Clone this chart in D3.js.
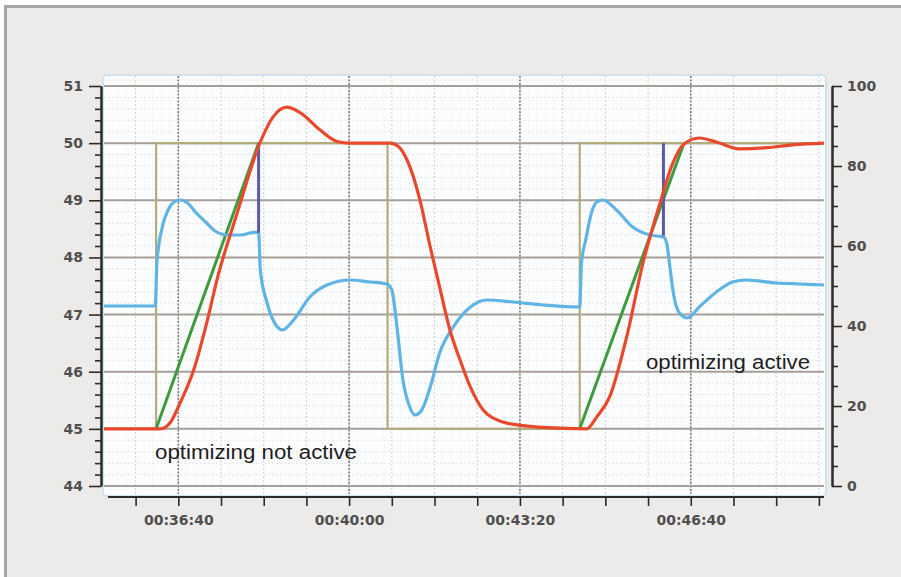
<!DOCTYPE html>
<html><head><meta charset="utf-8">
<script src="https://cdn.jsdelivr.net/npm/d3@7"></script>
<style>body{margin:0;background:#fff}svg{display:block}</style>
</head><body><svg id="c" width="901" height="577"></svg>
<script>
// ---- data (time in seconds) ----
const setpointTimes  = [2113, 2174, 2445, 2670, 2956];
const setpointValues = [45, 50, 45, 50, 50];

const rampStartTimes = [2174, 2670];
const rampEndTimes   = [2294, 2792];
const rampValues     = [45, 50];

const processTimes  = [2113,2179,2191,2202,2218,2234,2246,2269,2296,2311,2327,2343,2366,2386,2401,2448,2457,2468,2483,2495,2506,2518,2530,2542,2557,2580,2597,2632,2678,2690,2705,2725,2744,2764,2779,2791,2810,2830,2857,2889,2919,2956];
const processValues = [45,45,45.12,45.45,46.03,46.9,47.65,48.78,50.02,50.46,50.63,50.53,50.23,50.03,50,50,49.95,49.7,49.0,48.18,47.48,46.73,46.2,45.73,45.33,45.12,45.07,45.02,45,45.21,45.56,46.61,47.9,48.95,49.65,49.97,50.09,50.02,49.9,49.92,49.97,50];

const outputTimes  = [2113,2173,2175,2181,2188,2195,2202,2211,2220,2232,2243,2258,2273,2284,2294,2296,2304,2316,2322,2335,2354,2374,2401,2425,2444,2450,2456,2463,2471,2477,2485,2495,2506,2522,2542,2561,2592,2627,2670,2672,2677,2684,2690,2697,2713,2732,2752,2768,2772,2776,2780,2786,2796,2810,2830,2849,2865,2901,2928,2956];
const outputValues = [45,45,56,64.5,69,71,71.5,70.75,68.5,66,63.75,62.75,62.75,63.25,63.5,54,45.75,39.75,39,41.5,47.25,50.25,51.5,51,50.5,49,39.75,26.5,19.75,17.75,19,24.75,33.25,39.75,44.75,46.5,46,45.25,44.75,55.75,61.5,68.5,71,71.5,69,64.75,62.75,62.25,60.5,54,47.75,43.5,42,44.75,48.5,51,51.5,50.75,50.5,50.25];

const markerTimes = [2294, 2768];
const markerLow   = [48.43, 48.38];
const markerHigh  = [50, 50];

const leftTicks  = [44,45,46,47,48,49,50,51];
const rightTicks = [0,20,40,60,80,100];
const timeTicks  = [2200,2400,2600,2800];
const timeLabels = ["00:36:40","00:40:00","00:43:20","00:46:40"];
const notes = ["optimizing not active","optimizing active"];

// ---- drawing ----
const svg = d3.select("#c");
const x  = d3.scaleLinear().domain([2113, 2956]).range([104, 824]);
const yL = d3.scaleLinear().domain([44, 51]).range([486, 86]);
const yR = d3.scaleLinear().domain([0, 100]).range([486, 86]);

svg.append("rect").attr("width",901).attr("height",577).attr("fill","#ffffff");
svg.append("rect").attr("x",5.5).attr("y",6.5).attr("width",905).attr("height",585)
  .attr("fill","#ecebe9").attr("stroke","#a6a6a6").attr("stroke-width",3);

// plot area
svg.append("rect").attr("x",103).attr("y",75).attr("width",723).attr("height",421).attr("rx",4)
  .attr("fill","#fcfdff").attr("stroke","#cfe3f0").attr("stroke-width",2);

const g = svg.append("g");
// minor vertical grid (every 10 s faint, every 50 s dotted)
d3.range(2120, 2956, 10).forEach(t=>{
  g.append("line").attr("x1",x(t)).attr("x2",x(t)).attr("y1",76).attr("y2",494)
   .attr("stroke", t%50===0 ? "#cfcfcf" : "#ededed").attr("stroke-width",1)
   .attr("stroke-dasharray", t%50===0 ? "2,2" : "1,2");
});
// minor horizontal grid
d3.range(44.2, 51.0, 0.2).forEach(v=>{
  if (Math.abs(v-Math.round(v))<0.01) return;
  g.append("line").attr("x1",104).attr("x2",824).attr("y1",yL(v)).attr("y2",yL(v))
   .attr("stroke","#e4e4e4").attr("stroke-width",1).attr("stroke-dasharray","2,2");
});
g.append("line").attr("x1",104).attr("x2",824).attr("y1",80).attr("y2",80)
   .attr("stroke","#e4e4e4").attr("stroke-width",1).attr("stroke-dasharray","2,2");
// major vertical grid
timeTicks.forEach(t=>{
  g.append("line").attr("x1",x(t)).attr("x2",x(t)).attr("y1",76).attr("y2",494)
   .attr("stroke","#7d7873").attr("stroke-width",1.5).attr("stroke-dasharray","2,1.5");
});
// major horizontal grid
leftTicks.forEach(v=>{
  g.append("line").attr("x1",104).attr("x2",824).attr("y1",yL(v)).attr("y2",yL(v))
   .attr("stroke","#a79e98").attr("stroke-width",2);
});

// setpoint (olive)
const spData = setpointTimes.map((t,i)=>[t,setpointValues[i]]);
svg.append("path").datum(spData)
  .attr("d", d3.line().x(d=>x(d[0])).y(d=>yL(d[1])).curve(d3.curveStepAfter))
  .attr("fill","none").attr("stroke","#b3ab7c").attr("stroke-width",2.2);

// ramps (green)
rampStartTimes.forEach((t0,i)=>{
  svg.append("path").datum([[t0,rampValues[0]],[rampEndTimes[i],rampValues[1]]])
    .attr("d", d3.line().x(d=>x(d[0])).y(d=>yL(d[1])))
    .attr("fill","none").attr("stroke","#3f9a3e").attr("stroke-width",3);
});

// output (blue, right axis)
const outData = outputTimes.map((t,i)=>[t,outputValues[i]]);
svg.append("path").datum(outData)
  .attr("d", d3.line().x(d=>x(d[0])).y(d=>yR(d[1])).curve(d3.curveMonotoneX))
  .attr("fill","none").attr("stroke","#5fb4e4").attr("stroke-width",3.2)
  .attr("stroke-linejoin","round");

// markers (purple)
markerTimes.forEach((t,i)=>{
  svg.append("line").attr("x1",x(t)).attr("x2",x(t))
    .attr("y1",yL(markerLow[i])).attr("y2",yL(markerHigh[i]))
    .attr("stroke","#5b5aa9").attr("stroke-width",3);
});

// process (red)
const prData = processTimes.map((t,i)=>[t,processValues[i]]);
svg.append("path").datum(prData)
  .attr("d", d3.line().x(d=>x(d[0])).y(d=>yL(d[1])).curve(d3.curveMonotoneX))
  .attr("fill","none").attr("stroke","#e8492c").attr("stroke-width",3.2)
  .attr("stroke-linejoin","round");

// axes
const tickFont = "DejaVu Sans, Verdana, sans-serif";
function styleAxis(sel){
  sel.selectAll("path.domain").attr("stroke","#2b2b2b").attr("stroke-width",2);
  sel.selectAll(".tick line").attr("stroke","#2b2b2b").attr("stroke-width",1.6);
  sel.selectAll("text").attr("fill","#4f4f4f").style("font-family",tickFont)
     .style("font-size","14px").style("font-weight","bold");
}
// left
const la = svg.append("g").attr("transform","translate(101,0)")
  .call(d3.axisLeft(yL).tickValues(leftTicks).tickFormat(d3.format("d")).tickSize(12).tickSizeOuter(0).tickPadding(6));
styleAxis(la);
const lm = svg.append("g").attr("transform","translate(101,0)")
  .call(d3.axisLeft(yL).tickValues(d3.range(44.2,51,0.2).filter(v=>Math.abs(v-Math.round(v))>0.01)).tickFormat("").tickSize(6).tickSizeOuter(0));
styleAxis(lm);
// right
const ra = svg.append("g").attr("transform","translate(832,0)")
  .call(d3.axisRight(yR).tickValues(rightTicks).tickFormat(d3.format("d")).tickSize(10).tickSizeOuter(0).tickPadding(5));
styleAxis(ra);
const rm = svg.append("g").attr("transform","translate(832,0)")
  .call(d3.axisRight(yR).tickValues(d3.range(5,100,5).filter(v=>v%20!==0)).tickFormat("").tickSize(6).tickSizeOuter(0));
styleAxis(rm);
// bottom
const xb = d3.scaleLinear().domain(x.domain()).range(x.range());
const ba = svg.append("g").attr("transform","translate(0,497)")
  .call(d3.axisBottom(xb).tickValues(d3.range(2150,2956,50)).tickSize(9).tickSizeOuter(0)
    .tickFormat(d=>{const i=timeTicks.indexOf(d);return i>=0?timeLabels[i]:"";}).tickPadding(9));
styleAxis(ba);
ba.select("path.domain").attr("d","M108,0H824");

// annotations
const noteFont = "Liberation Sans, Arial, Helvetica, sans-serif";
svg.append("text").attr("x",155).attr("y",459).text(notes[0])
  .style("font-family",noteFont).style("font-size","20px").attr("fill","#1e1e1e")
  .attr("textLength",202).attr("lengthAdjust","spacingAndGlyphs");
svg.append("text").attr("x",646).attr("y",369).text(notes[1])
  .style("font-family",noteFont).style("font-size","20px").attr("fill","#1e1e1e")
  .attr("textLength",164).attr("lengthAdjust","spacingAndGlyphs");
</script></body></html>
